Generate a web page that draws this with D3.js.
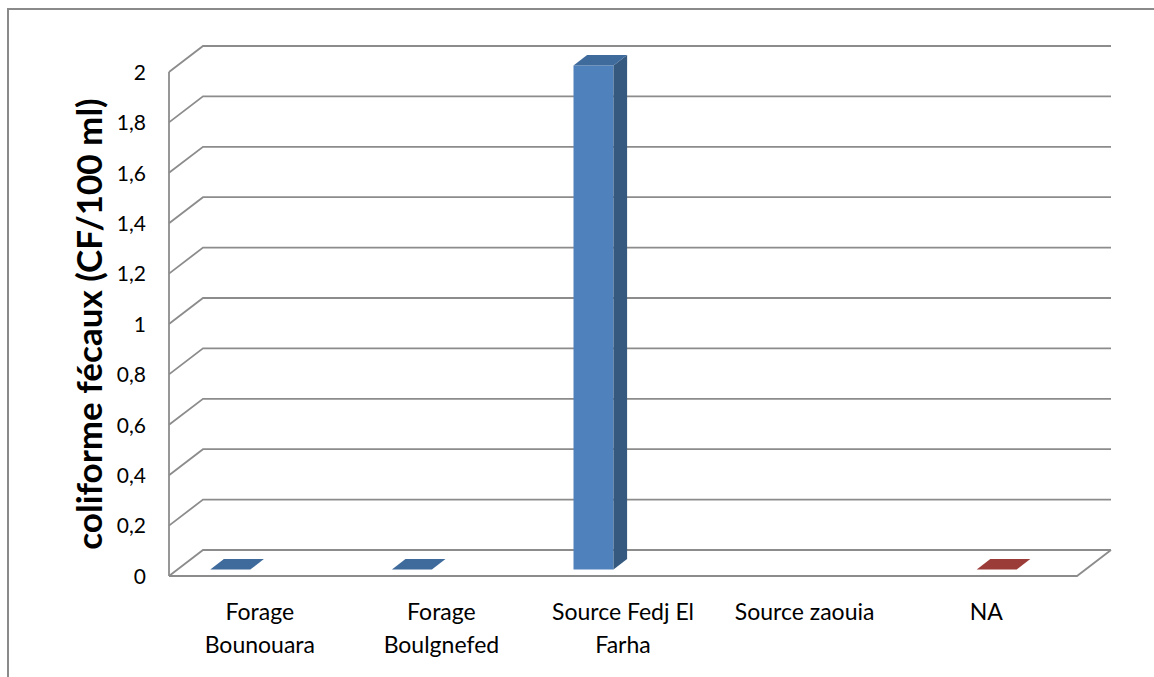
<!DOCTYPE html>
<html>
<head>
<meta charset="utf-8">
<script src="https://cdn.jsdelivr.net/npm/d3@7/dist/d3.min.js"></script>
<style>
  html, body { margin: 0; padding: 0; background: #fff; }
  svg { display: block; font-family: Lato, "Open Sans", sans-serif; }
</style>
</head>
<body>
<svg id="chart" width="1154" height="677"></svg>
<script>
// Sampling sites
const categories = ["Forage Bounouara", "Forage Boulgnefed", "Source Fedj El Farha", "Source zaouia", "NA"];
const categoryLines = [["Forage", "Bounouara"], ["Forage", "Boulgnefed"], ["Source Fedj El", "Farha"], ["Source zaouia"], ["NA"]];

// Faecal coliform counts (CF/100 ml); null = no bar
const seriesNames = ["s1", "s2"];
const seriesS1 = [0, 0, 2, null, null];
const seriesS2 = [null, null, null, null, 0];

// Value axis
const yTickValues = [0, 0.2, 0.4, 0.6, 0.8, 1, 1.2, 1.4, 1.6, 1.8, 2];
const yTickLabels = ["0", "0,2", "0,4", "0,6", "0,8", "1", "1,2", "1,4", "1,6", "1,8", "2"];
const yTitle = "coliforme fécaux (CF/100 ml)";

const svg = d3.select("#chart");

// Frame around the chart area
svg.append("path")
  .attr("d", "M8,677 L8,9 L1154,9")
  .attr("fill", "none").attr("stroke", "#8a8a8a").attr("stroke-width", 2);

// Front plane scales plus an oblique depth projection
const x = d3.scaleBand().domain(categories).range([169, 1077]);
const y = d3.scaleLinear().domain([0, 2]).range([576, 72]);
const DX = 34, DY = 26;
const proj = (px, v, z) => [px + z * DX, y(v) - z * DY];

const grid = svg.append("g").attr("fill", "none").attr("stroke", "#8c8c8c").attr("stroke-width", 1.8);

// Gridlines: diagonal on the side wall, then across the back wall
yTickValues.forEach(v => {
  const a = proj(169, v, 0), b = proj(169, v, 1), c = proj(1077, v, 1);
  grid.append("path").attr("d", `M${a[0]},${a[1]} L${b[0]},${b[1]} L${c[0]},${c[1]}`);
});
// Floor outline
{
  const a = proj(169, 0, 0), b = proj(1077, 0, 0), c = proj(1077, 0, 1);
  grid.append("path").attr("d", `M${a[0]},${a[1]} L${b[0]},${b[1]} L${c[0]},${c[1]}`);
}
// Front vertical axis line
{
  const a = proj(169, 0, 0), b = proj(169, 2, 0);
  grid.append("path").attr("d", `M${a[0]},${a[1]} L${b[0]},${b[1]}`);
}

// Value axis labels
const yAxis = svg.append("g")
  .attr("transform", "translate(147,0)")
  .call(d3.axisLeft(y).tickValues(yTickValues).tickSize(0)
    .tickFormat((d, i) => yTickLabels[i]));
yAxis.select(".domain").remove();
yAxis.selectAll("text")
  .attr("font-family", "Lato, 'Open Sans', sans-serif")
  .attr("font-size", 21).attr("fill", "#000").attr("x", -1).attr("dy", "0.35em");

// Axis title
svg.append("text")
  .attr("transform", "translate(102,324) rotate(-90)")
  .attr("text-anchor", "middle")
  .attr("font-size", 35).attr("font-weight", "bold").attr("fill", "#000")
  .text(yTitle);

// Category labels
const xAxis = svg.append("g")
  .attr("transform", "translate(0,600)")
  .call(d3.axisBottom(x).tickSize(0).tickFormat(() => ""));
xAxis.select(".domain").remove();
xAxis.selectAll(".tick text").each(function (d, i) {
  const t = d3.select(this).attr("y", 0).attr("dy", null)
    .attr("font-family", "Lato, 'Open Sans', sans-serif")
    .attr("font-size", 23).attr("fill", "#000");
  categoryLines[i].forEach((line, j) => {
    t.append("tspan").attr("x", 0).attr("y", 20 + j * 33).text(line);
  });
});

// Bars, placed within each category by series
const sub = d3.scaleBand().domain(seriesNames).range([-58, 22]);
const Z0 = 0.25, Z1 = 0.65;
const palettes = {
  s1: { front: "#4f81bd", side: "#36597f", top: "#3e6a9c" },
  s2: { front: "#c0504d", side: "#8a3331", top: "#9c3c39" }
};
const barsData = [];
[seriesS1, seriesS2].forEach((vals, si) => {
  vals.forEach((v, ci) => {
    if (v !== null) barsData.push({ series: seriesNames[si], cat: categories[ci], value: v });
  });
});

const poly = pts => pts.map(p => p.join(",")).join(" ");
const bars = svg.append("g");
barsData.forEach(d => {
  const x0 = x(d.cat) + x.bandwidth() / 2 + sub(d.series);
  const x1 = x0 + sub.bandwidth();
  const v = d.value;
  const c = palettes[d.series];
  const g = bars.append("g");
  if (v > 0) {
    g.append("polygon").attr("fill", c.front)
      .attr("points", poly([proj(x0, 0, Z0), proj(x1, 0, Z0), proj(x1, v, Z0), proj(x0, v, Z0)]));
    g.append("polygon").attr("fill", c.side)
      .attr("points", poly([proj(x1, 0, Z0), proj(x1, 0, Z1), proj(x1, v, Z1), proj(x1, v, Z0)]));
  }
  g.append("polygon").attr("fill", c.top)
    .attr("points", poly([proj(x0, v, Z0), proj(x1, v, Z0), proj(x1, v, Z1), proj(x0, v, Z1)]));
});
</script>
</body>
</html>
